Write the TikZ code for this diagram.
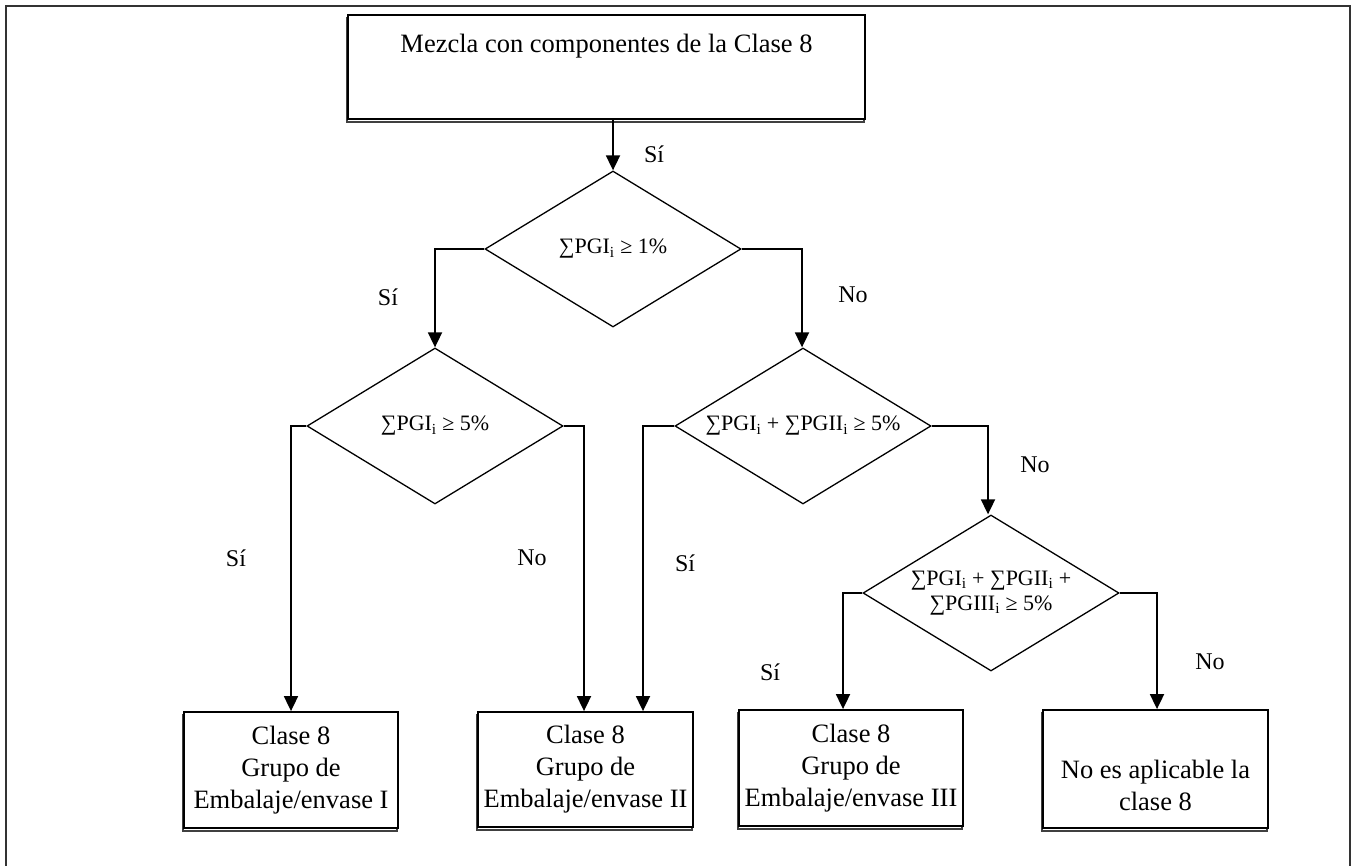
\documentclass[tikz,border=0pt]{standalone}
\usepackage{fontspec}
\setmainfont{Liberation Serif}
\usetikzlibrary{shapes.geometric,arrows.meta,shadows}
\begin{document}
\begin{tikzpicture}[x=1pt,y=-1pt,
  boxnode/.style={draw=black, line width=1.8pt, fill=white, rectangle, inner sep=0pt,
    align=center, font=\fontsize{26.5}{32}\selectfont,
    copy shadow={shadow xshift=-1pt, shadow yshift=-3pt, draw=black!75, fill=white, line width=1.2pt}},
  decision/.style={draw=black, line width=1.3pt, diamond, aspect=1.64, inner sep=0pt,
    minimum width=256pt, minimum height=156pt, align=center,
    font=\fontsize{22}{25}\selectfont},
  arr/.style={draw=black, line width=1.8pt, -{Triangle[width=14pt,length=15pt]}},
  lbl/.style={font=\fontsize{24}{28}\selectfont, inner sep=0pt},
  frameline/.style={draw=black!80, line width=1.5pt}
]
\useasboundingbox (0,0) rectangle (1354,866);
\draw[frameline] (6,866) -- (6,6) -- (1350,6) -- (1350,866);

\node[boxnode, minimum width=517pt, minimum height=104pt] (top) at (606.5,67)
  {Mezcla con componentes de la Clase 8\\[16pt]\mbox{}};

\node[decision] (d1) at (613,249) {∑PGI\textsubscript{i} ≥ 1\%};
\node[decision] (d2) at (435,426) {∑PGI\textsubscript{i} ≥ 5\%};
\node[decision] (d3) at (803,426) {∑PGI\textsubscript{i} + ∑PGII\textsubscript{i} ≥ 5\%};
\node[decision] (d4) at (991,593) {∑PGI\textsubscript{i} + ∑PGII\textsubscript{i} +\\∑PGIII\textsubscript{i} ≥ 5\%};

\node[boxnode, minimum width=214pt, minimum height=116pt] (b1) at (291,770)
  {Clase 8\\Grupo de\\Embalaje/envase I};
\node[boxnode, minimum width=215pt, minimum height=115pt] (b2) at (585.5,769.5)
  {Clase 8\\Grupo de\\Embalaje/envase II};
\node[boxnode, minimum width=224pt, minimum height=116pt] (b3) at (851,768)
  {Clase 8\\Grupo de\\Embalaje/envase III};
\node[boxnode, minimum width=225pt, minimum height=118pt] (b4) at (1155.5,769)
  {\mbox{}\\[20pt]No es aplicable la\\clase 8};

\draw[arr] (top.south -| d1.north) -- (d1.north);
\draw[arr] (d1.west) -| (d2.north);
\draw[arr] (d1.east) -| ([xshift=-1pt]d3.north);
\draw[arr] (d2.west) -| (b1.north);
\draw[arr] (d2.east) -| ([xshift=-1.5pt]b2.north);
\draw[arr] (d3.west) -| ([xshift=57.5pt]b2.north);
\draw[arr] (d3.east) -| ([xshift=-3pt]d4.north);
\draw[arr] (d4.west) -| ([xshift=-8pt]b3.north);
\draw[arr] (d4.east) -| ([xshift=1.5pt]b4.north);

\node[lbl] (l0) at (654,154) {Sí};
\node[lbl] (l1) at (388,297) {Sí};
\node[lbl] (l2) at (853,295) {No};
\node[lbl] (l3) at (236,558) {Sí};
\node[lbl] (l4) at (532,558) {No};
\node[lbl] (l5) at (685,563) {Sí};
\node[lbl] (l6) at (1035,465) {No};
\node[lbl] (l7) at (770,672) {Sí};
\node[lbl] (l8) at (1210,662) {No};
\end{tikzpicture}
\end{document}
